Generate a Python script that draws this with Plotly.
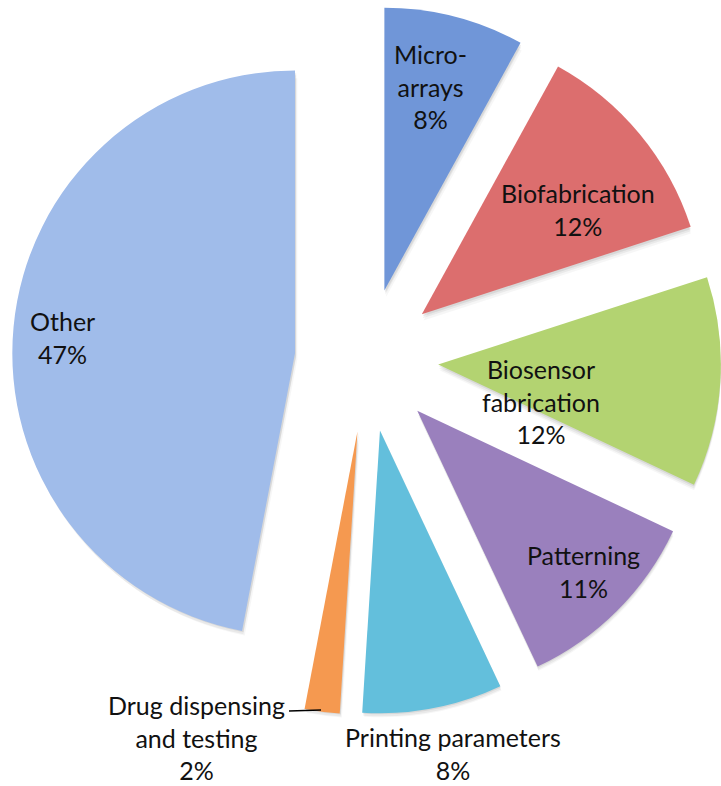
import plotly.graph_objects as go

# ---- data ----
categories = ["Micro-arrays", "Biofabrication", "Biosensor fabrication", "Patterning",
              "Printing parameters", "Drug dispensing and testing", "Other"]
values = [8, 12, 12, 11, 8, 2, 47]
label_texts = ["Micro-<br>arrays<br>8%", "Biofabrication<br>12%", "Biosensor<br>fabrication<br>12%",
               "Patterning<br>11%", "Printing parameters<br>8%", "Drug dispensing<br>and testing<br>2%",
               "Other<br>47%"]

# ---- styles ----
colors = ["#7096d8", "#dc6e6e", "#b3d371", "#9a80bd", "#63bfdc", "#f59950", "#a0bcea"]
W, H = 721, 786
PULL = 0.254
# label centres (pixel positions in the 721x786 canvas)
label_px = [(431, 86), (578, 209), (541, 401), (583, 571), (453, 753), (196, 737), (62, 337)]


def dom(dx=0, dy=0):
    # box centred at (366.5+dx, 360+dy); right edge pinned at canvas edge
    x0 = 12 + 2 * dx
    return dict(x=[x0 / W, 1.0], y=[1 - (715 + dy) / H, 1 - (5 + dy) / H])


fig = go.Figure()
# soft drop shadow layers
for (dx, dy, a) in [(2, 6, 0.035), (1, 4, 0.05), (1, 2, 0.07)]:
    fig.add_trace(go.Pie(
        labels=categories, values=values, sort=False, direction="clockwise", rotation=0,
        pull=[PULL] * len(values),
        marker=dict(colors=[f"rgba(0,0,0,{a})"] * len(values), line=dict(width=0)),
        textinfo="none", hoverinfo="skip", showlegend=False, domain=dom(dx, dy),
    ))

fig.add_trace(go.Pie(
    labels=categories,
    values=values,
    sort=False,
    direction="clockwise",
    rotation=0,
    pull=[PULL] * len(values),
    marker=dict(colors=colors, line=dict(width=0)),
    textinfo="none",
    hoverinfo="label+percent",
    showlegend=False,
    domain=dom(),
))

annotations = []
for txt, (px, py) in zip(label_texts, label_px):
    annotations.append(dict(
        x=px / W, y=1 - py / H, xref="paper", yref="paper",
        text=txt, showarrow=False, xanchor="center", yanchor="middle",
        align="center", font=dict(family="Lato", size=25, color="#111111"),
    ))

fig.update_layout(
    width=W, height=H,
    margin=dict(l=0, r=0, t=0, b=0),
    paper_bgcolor="white", plot_bgcolor="white",
    annotations=annotations,
    shapes=[dict(type="line", xref="paper", yref="paper",
                 x0=289 / W, y0=1 - 711 / H, x1=321 / W, y1=1 - 710 / H,
                 line=dict(color="black", width=1.5))],
)

fig.write_html("out.html", config={"displayModeBar": False},
               post_script="document.body.style.margin='0';")
